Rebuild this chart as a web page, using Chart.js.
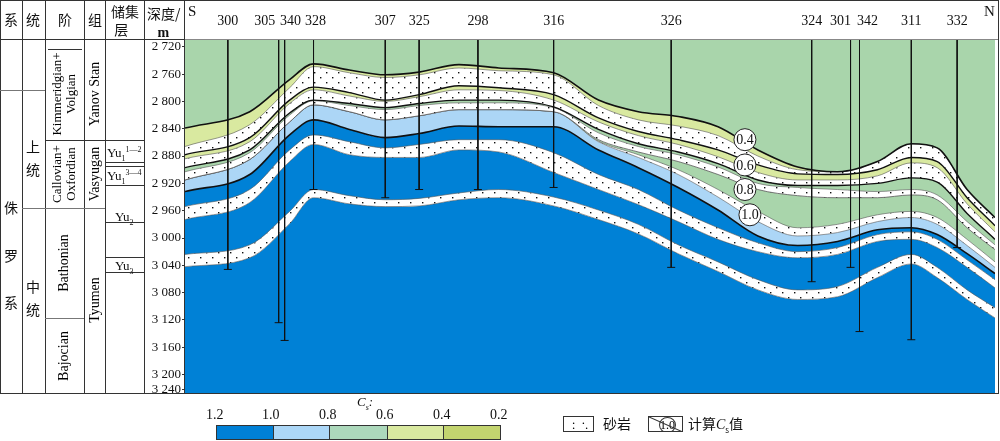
<!DOCTYPE html>
<html lang="zh">
<head>
<meta charset="UTF-8">
<title>Section</title>
<style>
  body { margin: 0; background: #fff; font-family: 'Liberation Serif', 'Noto Sans CJK SC', serif; }
  #wrap { position: relative; width: 1000px; height: 441px; overflow: hidden; }
  #chart { position: absolute; left: 0; top: 0; }
  .ln { position: absolute; background: #333; }
  .t { position: absolute; font-size: 14px; color: #111; white-space: nowrap; line-height: 1; }
  .rot { position: absolute; transform: translate(-50%, -50%) rotate(-90deg); font-size: 14px; white-space: nowrap; line-height: 1.05; text-align: center; }
  .cn { font-family: 'Noto Sans CJK SC', sans-serif; font-size: 14px; }
  .box { position: absolute; height: 15px; top: 425px; border: 1px solid #333; box-sizing: border-box; }
</style>
</head>
<body>
<div id="wrap">
  <canvas id="chart" width="1000" height="441"></canvas>

  <!-- frame and left table -->
  <div class="ln" style="left:0;top:0;width:999px;height:1px"></div>
  <div class="ln" style="left:0;top:0;width:1px;height:394px"></div>
  <div class="ln" style="left:998px;top:0;width:1px;height:394px"></div>
  <div class="ln" style="left:0;top:393px;width:999px;height:1px"></div>
  <div class="ln" style="left:0;top:39px;width:185px;height:1px"></div>
  <div class="ln" style="left:185px;top:39px;width:813px;height:1px;background:#888"></div>
  <div class="ln" style="left:22px;top:0;width:1px;height:394px"></div>
  <div class="ln" style="left:45px;top:0;width:1px;height:394px"></div>
  <div class="ln" style="left:84px;top:0;width:1px;height:394px"></div>
  <div class="ln" style="left:105px;top:0;width:1px;height:394px"></div>
  <div class="ln" style="left:144px;top:0;width:1px;height:394px"></div>
  <div class="ln" style="left:184px;top:0;width:1px;height:394px"></div>
  <div class="ln" style="left:0;top:90px;width:45px;height:1px;background:#777"></div>
  <div class="ln" style="left:45px;top:140px;width:99px;height:1px"></div>
  <div class="ln" style="left:22px;top:208px;width:83px;height:1px;background:#777"></div>
  <div class="ln" style="left:45px;top:318px;width:39px;height:1px;background:#777"></div>
  <div class="ln" style="left:105px;top:162px;width:39px;height:1px"></div>
  <div class="ln" style="left:105px;top:166px;width:39px;height:1px"></div>
  <div class="ln" style="left:105px;top:185px;width:39px;height:1px"></div>
  <div class="ln" style="left:105px;top:222px;width:39px;height:1px"></div>
  <div class="ln" style="left:105px;top:257px;width:39px;height:1px"></div>
  <div class="ln" style="left:105px;top:272px;width:39px;height:1px"></div>
  <div class="ln" style="left:48px;top:49px;width:34px;height:1px"></div>

  <div class="t cn" style="left:4px;top:12px">系</div>
  <div class="t cn" style="left:26px;top:12px">统</div>
  <div class="t cn" style="left:58px;top:12px">阶</div>
  <div class="t cn" style="left:88px;top:12px">组</div>
  <div class="t cn" style="left:111px;top:3px;line-height:1.25">储集<br>&nbsp;层</div>
  <div class="t" style="left:147px;top:4px;line-height:1.3"><span class="cn">深度/</span><br>&nbsp;&nbsp;&nbsp;<b>m</b></div>
  <div class="t" style="left:188px;top:4px;font-size:15px">S</div>
  <div class="t" style="left:984px;top:4px;font-size:15px">N</div>

  <div class="t cn" style="left:4px;top:184px;line-height:3.4">侏<br>罗<br>系</div>
  <div class="t cn" style="left:26px;top:135px;line-height:1.65">上<br>统</div>
  <div class="t cn" style="left:26px;top:275px;line-height:1.65">中<br>统</div>

  <div class="rot" style="left:64px;top:94px;font-size:13px">Kimmeridgian+<br>Volgian</div>
  <div class="rot" style="left:64px;top:174px;font-size:13px">Callovian+<br>Oxfordian</div>
  <div class="rot" style="left:64px;top:263px">Bathonian</div>
  <div class="rot" style="left:64px;top:356px">Bajocian</div>
  <div class="rot" style="left:95px;top:94px">Yanov Stan</div>
  <div class="rot" style="left:95px;top:174px">Vasyugan</div>
  <div class="rot" style="left:95px;top:300px">Tyumen</div>

  <div class="t" style="left:107px;top:146px;font-size:13px">Yu<sub style="font-size:8px">1</sub><sup style="font-size:8px">1—2</sup></div>
  <div class="t" style="left:107px;top:169px;font-size:13px">Yu<sub style="font-size:8px">1</sub><sup style="font-size:8px">3—4</sup></div>
  <div class="t" style="left:115px;top:210px;font-size:13px">Yu<sub style="font-size:8px">2</sub></div>
  <div class="t" style="left:115px;top:259px;font-size:13px">Yu<sub style="font-size:8px">3</sub></div>

  <!-- legend -->
  <div class="t" style="left:357px;top:395px;font-style:italic;font-size:13px">C<sub style="font-size:8px">s</sub>:</div>
  <div class="t" style="left:206px;top:408px">1.2</div>
  <div class="t" style="left:262px;top:408px">1.0</div>
  <div class="t" style="left:319px;top:408px">0.8</div>
  <div class="t" style="left:376px;top:408px">0.6</div>
  <div class="t" style="left:433px;top:408px">0.4</div>
  <div class="t" style="left:490px;top:408px">0.2</div>
  <div class="box" style="left:216px;width:58px;background:#0080d6"></div>
  <div class="box" style="left:273px;width:57px;background:#acd7f7"></div>
  <div class="box" style="left:329px;width:59px;background:#acd8bb"></div>
  <div class="box" style="left:387px;width:57px;background:#d9e9a0"></div>
  <div class="box" style="left:443px;width:58px;background:#c3d46f"></div>
  <div class="box" style="left:563px;top:416px;width:31px;height:16px;text-align:center;font-size:13px;line-height:5px">.&nbsp;&nbsp;.<br>&nbsp;.&nbsp;&nbsp;&nbsp;.</div>
  <div class="t cn" style="left:603px;top:416px">砂岩</div>
  <div class="box" style="left:648px;top:416px;width:35px;height:16px;overflow:hidden">
    <div style="position:absolute;left:10px;top:0px;width:15px;height:14px;border:1px solid #333;border-radius:50%;font-size:12px;line-height:14px;text-align:center;background:rgba(255,255,255,0.6)">1.0</div>
    <div style="position:absolute;left:-4px;top:7px;width:42px;height:1px;background:#333;transform:rotate(24deg)"></div>
  </div>
  <div class="t cn" style="left:688px;top:416px">计算<i style="font-family:'Liberation Serif'">C</i><sub style="font-size:8px">s</sub>值</div>
</div>

<script src="https://cdn.jsdelivr.net/npm/chart.js"></script>
<script>
// distance along section (arbitrary units) of the sample columns
const xs = [-27, 38, 78, 102, 138, 174, 208, 248, 288, 343, 388, 428, 468, 508, 548, 588, 628, 668, 702, 728, 758, 786];

// layer boundary depths (m), top to bottom
const b1  = [2839,2815,2768,2745,2754,2761,2757,2746,2751,2758,2798,2815,2822,2837,2871,2896,2903,2888,2862,2868,2929,2970];
const b2  = [2866,2834,2780,2749,2758,2765,2761,2751,2755,2761,2806,2827,2836,2850,2880,2900,2903,2888,2862,2868,2929,2970];
const b3  = [2878,2853,2798,2779,2787,2798,2790,2777,2780,2790,2824,2844,2856,2871,2893,2906,2907,2900,2882,2888,2941,2982];
const b4  = [2884,2859,2803,2783,2792,2800,2793,2783,2784,2798,2830,2850,2863,2881,2904,2915,2915,2909,2890,2897,2950,2991];
const b5  = [2897,2871,2817,2798,2803,2809,2803,2798,2798,2808,2841,2862,2874,2891,2915,2923,2923,2920,2912,2918,2964,3002];
const b6  = [2903,2875,2820,2799,2806,2812,2806,2802,2802,2809,2846,2866,2878,2896,2920,2926,2929,2932,2929,2937,2976,3010];
const b7  = [2915,2885,2830,2805,2815,2827,2821,2812,2812,2815,2856,2874,2888,2907,2929,2938,2941,2941,2937,2944,2985,3017];
const b8  = [2915,2885,2830,2805,2815,2827,2821,2812,2812,2815,2858,2878,2900,2929,2961,2985,2980,2966,2961,2970,3002,3035];
const b9  = [2915,2885,2830,2805,2815,2827,2821,2812,2812,2815,2859,2882,2907,2940,2976,2997,2992,2976,2970,2980,3011,3043];
const b10 = [2932,2907,2849,2827,2841,2853,2847,2836,2837,2837,2871,2897,2926,2959,2997,3011,3005,2988,2985,2995,3023,3052];
const b11 = [2954,2929,2871,2849,2859,2868,2863,2856,2856,2875,2907,2929,2959,2985,3007,3020,3014,2995,2991,3002,3032,3061];
const b12 = [2973,2948,2888,2863,2878,2882,2882,2871,2874,2904,2929,2951,2976,3002,3020,3029,3024,3005,3002,3014,3043,3073];
const b13 = [3024,3010,2961,2929,2938,2944,2942,2934,2929,2940,2959,2980,3010,3035,3061,3076,3071,3043,3024,3043,3076,3102];
const b14 = [3042,3029,2979,2941,2950,2954,2953,2944,2941,2953,2973,2994,3023,3049,3076,3090,3086,3058,3038,3058,3090,3117];

// wells
const wellNames  = ['300','305','340','328','307','325','298','316','326','324','301','342','311','332'];
const wellPos    = [16, 67, 73, 102, 174, 208, 267, 343, 461, 602, 641, 650, 702, 748];
const wellLabelX = [16, 53, 79, 104, 174, 208, 267, 343, 461, 602, 631, 658, 702, 748];
const wellBottom = [3046,3124,3150,2929,2941,2929,2929,2926,3043,3064,3043,3137,3149,3014];

// depth axis
const depthTicks  = [2720,2760,2800,2840,2880,2920,2960,3000,3040,3080,3120,3160,3200,3222];
const depthLabels = ['2 720','2 760','2 800','2 840','2 880','2 920','2 960','3 000','3 040','3 080','3 120','3 160','3 200','3 240'];

// calculated Cs labels
const csLabels = ['0.4','0.6','0.8','1.0'];
const csX      = [535, 535, 535, 540];
const csDepth  = [2856, 2893, 2929, 2966];

const TOP = 2710, BOTTOM = 3227;

const GREEN = '#a9d5ab', YELLOW = '#d9e9a0', LBLUE = '#acd6f6', BLUE = '#0081d6';

function sandPattern() {
  const c = document.createElement('canvas');
  c.width = 12; c.height = 10;
  const g = c.getContext('2d');
  g.fillStyle = '#fff'; g.fillRect(0, 0, 12, 10);
  g.fillStyle = '#111';
  g.fillRect(2, 2, 1.4, 1.4);
  g.fillRect(8, 7, 1.4, 1.4);
  return g.createPattern(c, 'repeat');
}
const SAND = sandPattern();

const pts = arr => xs.map((x, i) => ({ x: x, y: arr[i] }));
const flat = v => xs.map(x => ({ x: x, y: v }));

const layers = [
  { data: flat(TOP), color: null, line: 0 },
  { data: pts(b1), color: GREEN, line: 1.6 },
  { data: pts(b2), color: YELLOW, line: 0.6 },
  { data: pts(b3), color: SAND, line: 1.4 },
  { data: pts(b4), color: YELLOW, line: 0.6 },
  { data: pts(b5), color: SAND, line: 1.4 },
  { data: pts(b6), color: GREEN, line: 0.6 },
  { data: pts(b7), color: SAND, line: 0.8 },
  { data: pts(b8), color: GREEN, line: 0.6 },
  { data: pts(b9), color: SAND, line: 0.6 },
  { data: pts(b10), color: LBLUE, line: 1.6 },
  { data: pts(b11), color: BLUE, line: 0.6 },
  { data: pts(b12), color: SAND, line: 0.6 },
  { data: pts(b13), color: BLUE, line: 0.6 },
  { data: pts(b14), color: SAND, line: 0.6 },
  { data: flat(BOTTOM), color: BLUE, line: 0 }
];

const datasets = layers.map((l, i) => ({
  data: l.data,
  borderColor: l.line > 1 ? '#111' : '#555',
  borderWidth: l.line,
  backgroundColor: l.color || 'transparent',
  fill: i === 0 ? false : '-1',
  pointRadius: 0,
  cubicInterpolationMode: 'monotone'
}));

wellPos.forEach((p, i) => {
  datasets.push({
    data: [{ x: p, y: TOP }, { x: p, y: wellBottom[i] }],
    borderColor: '#111',
    borderWidth: 1,
    fill: false,
    pointRadius: [0, 4],
    pointStyle: 'line',
    pointBorderColor: '#111',
    pointBorderWidth: 1,
    order: -1
  });
});

const csPlugin = {
  id: 'cs',
  afterDatasetsDraw(chart) {
    const { ctx, scales } = chart;
    ctx.save();
    csLabels.forEach((t, i) => {
      const px = scales.x.getPixelForValue(csX[i]);
      const py = scales.y.getPixelForValue(csDepth[i]);
      ctx.beginPath();
      ctx.arc(px, py, 11, 0, Math.PI * 2);
      ctx.fillStyle = '#fff'; ctx.fill();
      ctx.strokeStyle = '#222'; ctx.lineWidth = 1; ctx.stroke();
      ctx.fillStyle = '#111';
      ctx.font = '14px "Liberation Serif"';
      ctx.textAlign = 'center'; ctx.textBaseline = 'middle';
      ctx.fillText(t, px, py + 1);
    });
    ctx.restore();
  }
};

new Chart(document.getElementById('chart'), {
  type: 'line',
  data: { datasets: datasets },
  plugins: [csPlugin],
  options: {
    responsive: false,
    animation: false,
    layout: { padding: { left: 144, top: 15, right: 2, bottom: 48 } },
    plugins: { legend: { display: false }, tooltip: { enabled: false } },
    scales: {
      x: {
        type: 'linear', position: 'top', min: -27, max: 786,
        afterBuildTicks: s => { s.ticks = wellLabelX.map(v => ({ value: v })); },
        afterFit: s => { s.height = 25; },
        grid: { display: false }, border: { display: false },
        ticks: {
          autoSkip: false, maxRotation: 0, padding: 2, color: '#111',
          font: { family: 'Liberation Serif', size: 14 },
          callback: (v, i) => wellNames[i]
        }
      },
      y: {
        type: 'linear', reverse: true, min: TOP, max: BOTTOM,
        afterBuildTicks: s => { s.ticks = depthTicks.map(v => ({ value: v })); },
        afterFit: s => { s.width = 41; },
        grid: { drawOnChartArea: false, tickLength: 3, color: '#333' },
        border: { display: false },
        ticks: {
          autoSkip: false, padding: 1, color: '#111',
          font: { family: 'Liberation Serif', size: 13 },
          callback: (v, i) => depthLabels[i]
        }
      }
    }
  }
});
</script>
</body>
</html>
